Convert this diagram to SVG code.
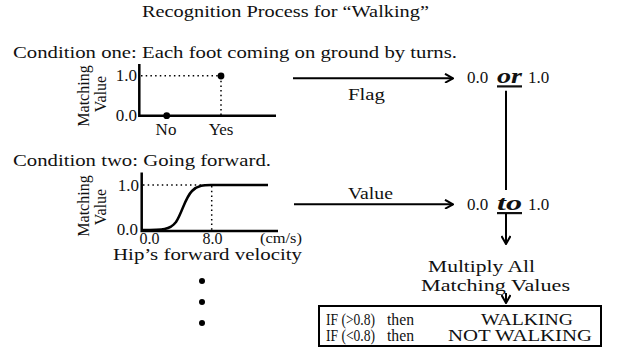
<svg xmlns="http://www.w3.org/2000/svg" width="621" height="358" viewBox="0 0 621 358">
  <style>
    text { font-family: "Liberation Serif", "Times New Roman", serif; font-size: 17px; fill: #111; }
    .small { font-size: 15px; }
    .tick { font-size: 16px; }
    .ylab { font-size: 16px; }
    .rule { font-size: 16px; }
    .em { font-weight: bold; font-style: italic; font-size: 22px; text-decoration: underline; }
    .axis { stroke: #000; stroke-width: 2.5; fill: none; }
    .dot-line { stroke: #000; stroke-width: 1.5; stroke-dasharray: 1.5 3.2; fill: none; }
    .curve { stroke: #000; stroke-width: 2.5; fill: none; stroke-linejoin: round; }
    .conn { stroke: #000; stroke-width: 2; fill: none; }
    .box { stroke: #000; stroke-width: 2; fill: #fff; }
  </style>
  <defs>
    <marker id="head" viewBox="0 0 10 10" refX="9" refY="5" markerWidth="10" markerHeight="10" markerUnits="userSpaceOnUse" orient="auto">
      <path d="M1,0.5 L9,5 L1,9.5" fill="none" stroke="#000" stroke-width="2"/>
    </marker>
  </defs>

  <rect width="621" height="358" fill="#fff"/>

  <g id="title">
    <text x="142" y="17" textLength="287" lengthAdjust="spacingAndGlyphs">Recognition Process for “Walking”</text>
  </g>

  <!-- Condition one: binary flag plot -->
  <g id="condition-one">
    <text x="13" y="58" textLength="444" lengthAdjust="spacingAndGlyphs">Condition one: Each foot coming on ground by turns.</text>
    <text class="ylab" transform="translate(89,96) rotate(-90)" text-anchor="middle">Matching</text>
    <text class="ylab" transform="translate(106,94) rotate(-90)" text-anchor="middle">Value</text>
    <text x="137" y="81" text-anchor="end">1.0</text>
    <text x="137" y="121" text-anchor="end">0.0</text>
    <path class="dot-line" d="M141,75.7 H221 M221,76 V115"/>
    <path class="axis" d="M139.3,64 V115.7 H276"/>
    <circle cx="221" cy="76" r="3.4" fill="#000"/>
    <circle cx="166.7" cy="115.7" r="3.4" fill="#000"/>
    <text x="166" y="135" text-anchor="middle">No</text>
    <text x="221" y="135" text-anchor="middle">Yes</text>
  </g>

  <!-- Condition two: sigmoid over hip velocity -->
  <g id="condition-two">
    <text x="13" y="165.5" textLength="258" lengthAdjust="spacingAndGlyphs">Condition two: Going forward.</text>
    <text class="ylab" transform="translate(89,206) rotate(-90)" text-anchor="middle">Matching</text>
    <text class="ylab" transform="translate(106,207) rotate(-90)" text-anchor="middle">Value</text>
    <text x="139" y="191" text-anchor="end">1.0</text>
    <text x="138" y="235" text-anchor="end">0.0</text>
    <path class="dot-line" d="M143,185 H211 M211.7,186 V230"/>
    <path class="curve" d="M142,230 C163,230 170,230 176,222 C182,213 185,198 192,191 C198,185 204,185 211,185 H268"/>
    <path class="axis" d="M141.7,172.5 V231 H278"/>
    <text class="tick" x="139.5" y="243.5">0.0</text>
    <text class="tick" x="212.5" y="243.5" text-anchor="middle">8.0</text>
    <text class="small" x="281" y="243" text-anchor="middle" textLength="42" lengthAdjust="spacingAndGlyphs">(cm/s)</text>
    <text x="113" y="260" textLength="189" lengthAdjust="spacingAndGlyphs">Hip’s forward velocity</text>
  </g>

  <!-- further conditions elided -->
  <g id="more-conditions">
    <circle cx="202" cy="281" r="3"/>
    <circle cx="202" cy="302" r="3"/>
    <circle cx="202" cy="323" r="3"/>
  </g>

  <g id="flag-result">
    <text y="83.3"><tspan x="467">0.0</tspan><tspan class="em" x="497" textLength="25" lengthAdjust="spacingAndGlyphs">or</tspan><tspan x="528">1.0</tspan></text>
  </g>

  <g id="value-result">
    <text y="210"><tspan x="467">0.0</tspan><tspan class="em" x="497" textLength="25" lengthAdjust="spacingAndGlyphs">to</tspan><tspan x="528">1.0</tspan></text>
  </g>

  <g id="multiply">
    <text x="428" y="272" textLength="107" lengthAdjust="spacingAndGlyphs">Multiply All</text>
    <text x="421" y="291" textLength="149" lengthAdjust="spacingAndGlyphs">Matching Values</text>
  </g>

  <g id="decision">
    <rect class="box" x="319" y="306" width="282" height="40"/>
    <text class="rule" x="326" y="325" textLength="49" lengthAdjust="spacingAndGlyphs">IF (&gt;0.8)</text>
    <text class="rule" x="387" y="325" textLength="27" lengthAdjust="spacingAndGlyphs">then</text>
    <text class="rule" x="481" y="325" textLength="92" lengthAdjust="spacingAndGlyphs">WALKING</text>
    <text class="rule" x="326" y="341" textLength="49" lengthAdjust="spacingAndGlyphs">IF (&lt;0.8)</text>
    <text class="rule" x="387" y="341" textLength="27" lengthAdjust="spacingAndGlyphs">then</text>
    <text class="rule" x="448" y="341" textLength="144" lengthAdjust="spacingAndGlyphs">NOT WALKING</text>
  </g>

  <g id="connectors">
    <line class="conn" x1="293" y1="78.3" x2="453" y2="78.3" marker-end="url(#head)"/>
    <text x="366.5" y="99.5" text-anchor="middle" textLength="37" lengthAdjust="spacingAndGlyphs">Flag</text>
    <line class="conn" x1="294" y1="204.3" x2="453" y2="204.3" marker-end="url(#head)"/>
    <text x="370.5" y="199" text-anchor="middle" textLength="45" lengthAdjust="spacingAndGlyphs">Value</text>
    <line class="conn" x1="506" y1="90.7" x2="506" y2="190"/>
    <line class="conn" x1="506" y1="213" x2="506" y2="244" marker-end="url(#head)"/>
    <line class="conn" x1="506" y1="293" x2="506" y2="303" marker-end="url(#head)"/>
  </g>
</svg>
